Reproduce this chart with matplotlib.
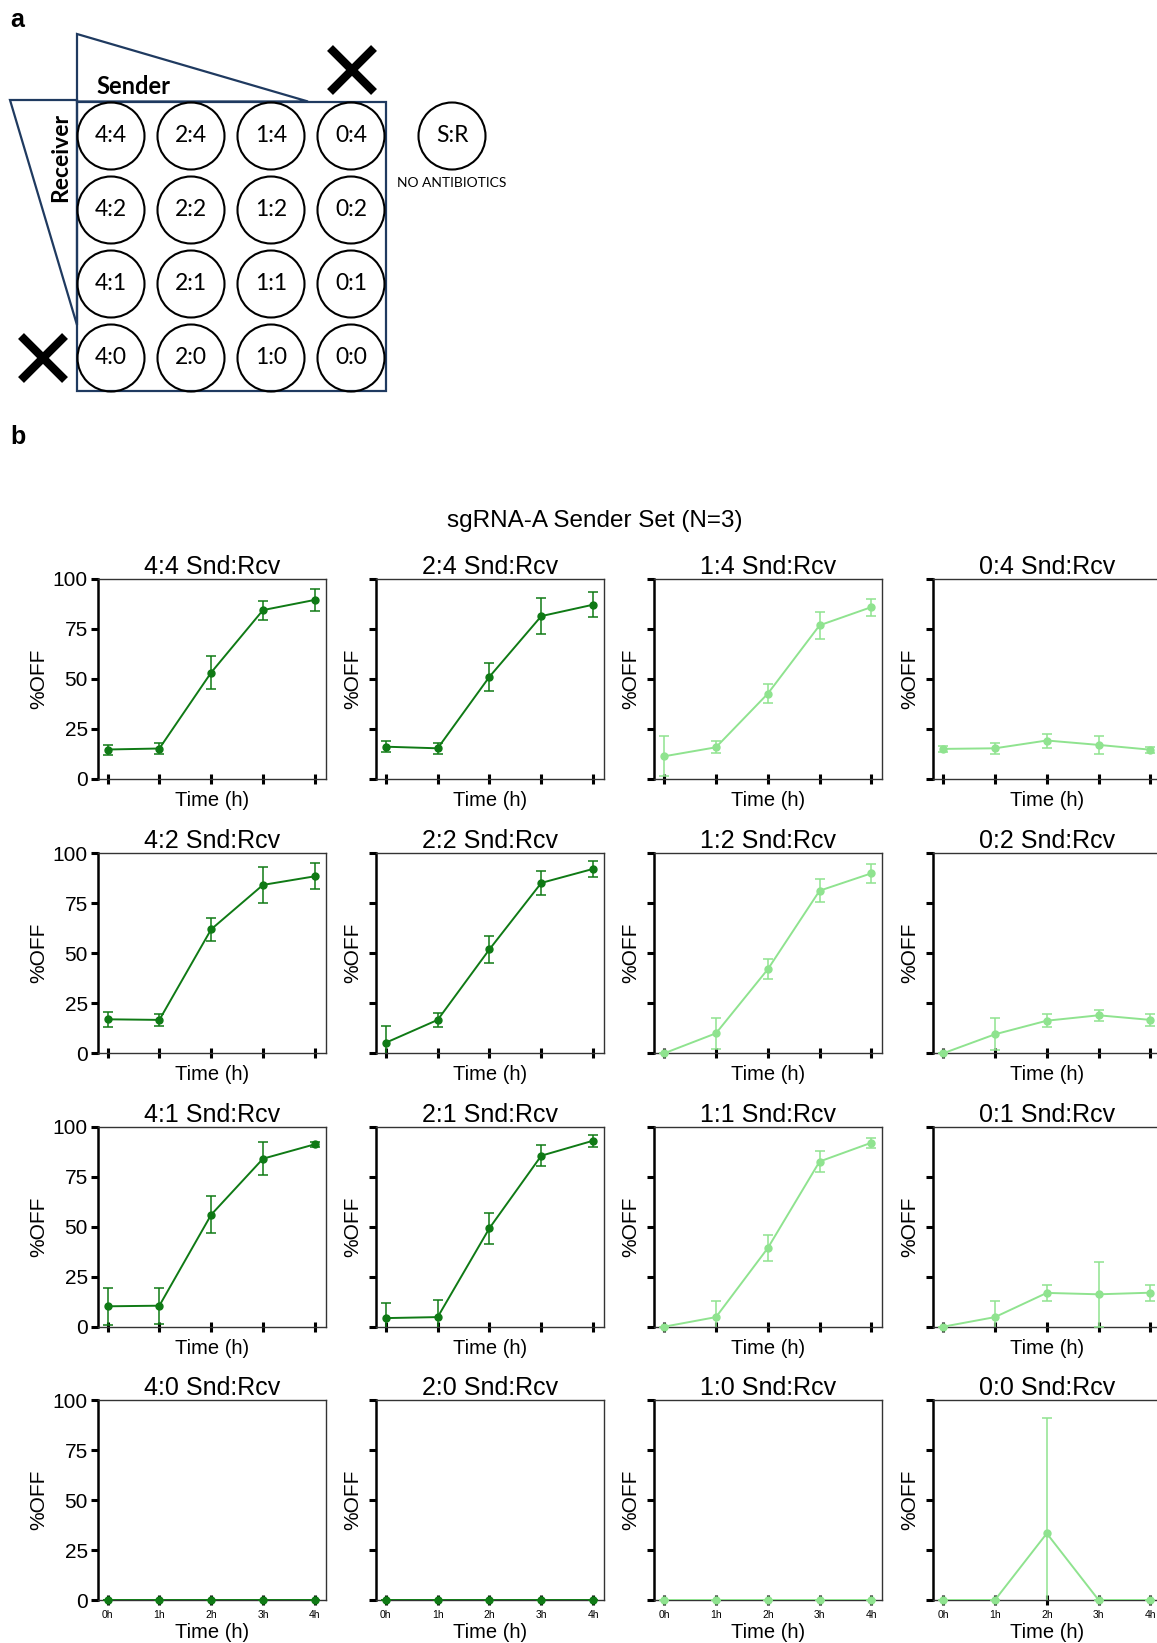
import matplotlib
matplotlib.use("Agg")
import matplotlib.pyplot as plt
from matplotlib.patches import Circle, Polygon, Rectangle
from matplotlib.lines import Line2D

# ---------------------------------------------------------------- data
sender_levels = ["4", "2", "1", "0"]
receiver_levels = ["4", "2", "1", "0"]
time_hours = [0, 1, 2, 3, 4]
time_labels = ["0h", "1h", "2h", "3h", "4h"]
y_ticks = [0, 25, 50, 75, 100]

# mean %OFF and error for each Sender:Receiver well (N=3)
off_4_4 = [14.6, 15.1, 53.1, 84.3, 89.4]
err_4_4 = [2.5, 2.6, 8.4, 4.7, 5.3]
off_2_4 = [16.0, 15.2, 51.0, 81.3, 87.0]
err_2_4 = [2.7, 2.8, 7.0, 9.0, 6.3]
off_1_4 = [11.2, 15.7, 42.5, 76.7, 85.8]
err_1_4 = [10.0, 3.0, 4.7, 6.7, 4.3]
off_0_4 = [14.9, 15.2, 19.1, 16.9, 14.5]
err_0_4 = [1.7, 2.8, 3.5, 4.6, 1.5]

off_4_2 = [17.0, 16.7, 62.0, 84.2, 88.5]
err_4_2 = [3.7, 2.8, 5.7, 9.2, 6.5]
off_2_2 = [5.3, 16.7, 52.0, 85.2, 92.2]
err_2_2 = [8.2, 3.7, 6.8, 6.0, 4.0]
off_1_2 = [0.0, 10.0, 42.0, 81.3, 90.0]
err_1_2 = [0.0, 7.8, 5.0, 5.7, 4.6]
off_0_2 = [0.0, 9.5, 16.3, 19.0, 16.7]
err_0_2 = [0.0, 8.0, 3.3, 2.9, 2.9]

off_4_1 = [10.2, 10.5, 56.0, 84.0, 91.2]
err_4_1 = [9.3, 9.0, 9.2, 8.2, 1.2]
off_2_1 = [4.3, 4.8, 49.3, 85.5, 93.0]
err_2_1 = [7.5, 8.5, 7.7, 5.2, 3.0]
off_1_1 = [0.0, 4.8, 39.3, 82.6, 92.0]
err_1_1 = [0.0, 8.0, 6.5, 5.2, 2.6]
off_0_1 = [0.0, 4.8, 16.9, 16.2, 17.0]
err_0_1 = [0.0, 8.0, 4.0, 16.4, 4.0]

off_4_0 = [0.0, 0.0, 0.0, 0.0, 0.0]
err_4_0 = [0.0, 0.0, 0.0, 0.0, 0.0]
off_2_0 = [0.0, 0.0, 0.0, 0.0, 0.0]
err_2_0 = [0.0, 0.0, 0.0, 0.0, 0.0]
off_1_0 = [0.0, 0.0, 0.0, 0.0, 0.0]
err_1_0 = [0.0, 0.0, 0.0, 0.0, 0.0]
off_0_0 = [0.0, 0.0, 33.3, 0.0, 0.0]
err_0_0 = [0.0, 0.0, 57.5, 0.0, 0.0]

wells = {
    ("4", "4"): (off_4_4, err_4_4), ("2", "4"): (off_2_4, err_2_4),
    ("1", "4"): (off_1_4, err_1_4), ("0", "4"): (off_0_4, err_0_4),
    ("4", "2"): (off_4_2, err_4_2), ("2", "2"): (off_2_2, err_2_2),
    ("1", "2"): (off_1_2, err_1_2), ("0", "2"): (off_0_2, err_0_2),
    ("4", "1"): (off_4_1, err_4_1), ("2", "1"): (off_2_1, err_2_1),
    ("1", "1"): (off_1_1, err_1_1), ("0", "1"): (off_0_1, err_0_1),
    ("4", "0"): (off_4_0, err_4_0), ("2", "0"): (off_2_0, err_2_0),
    ("1", "0"): (off_1_0, err_1_0), ("0", "0"): (off_0_0, err_0_0),
}

# ---------------------------------------------------------------- style
W, H, DPI = 1157, 1643, 100
DARK = "#0f7a15"
LIGHT = "#8fe38f"
NAVY = "#1f3a60"
SANS = ["Liberation Sans", "DejaVu Sans"]
DIAG = ["Lato", "Open Sans", "DejaVu Sans"]

plt.rcParams["font.family"] = SANS

fig = plt.figure(figsize=(W / DPI, H / DPI), dpi=DPI)
fig.patch.set_facecolor("white")

# ------------------------------------------------ panel a: plate layout
canvas = fig.add_axes([0, 0, 1, 1])
canvas.set_xlim(0, W)
canvas.set_ylim(H, 0)
canvas.axis("off")

box_l, box_t, box_r, box_b = 77, 101.5, 385.5, 391
canvas.add_patch(Rectangle((box_l, box_t), box_r - box_l, box_b - box_t,
                           fill=False, ec=NAVY, lw=1.6))
canvas.add_patch(Polygon([(box_l, 34), (box_l, box_t), (308, box_t)],
                         closed=True, fill=False, ec=NAVY, lw=1.6))
canvas.add_patch(Polygon([(10, 100), (box_l, 100), (box_l, 325)],
                         closed=True, fill=False, ec=NAVY, lw=1.6))

well_r = 33.5
x0, dx = 111, 80
y0, dy = 136, 74
for j, r in enumerate(receiver_levels):
    for i, s in enumerate(sender_levels):
        cx, cy = x0 + i * dx, y0 + j * dy
        canvas.add_patch(Circle((cx, cy), well_r, fill=False, ec="black", lw=1.5))
        canvas.text(cx, cy, f"{s}:{r}", ha="center", va="center",
                    fontsize=16.5, family=DIAG)

canvas.add_patch(Circle((452, 136), well_r, fill=False, ec="black", lw=1.5))
canvas.text(452, 136, "S:R", ha="center", va="center", fontsize=16.5, family=DIAG)
canvas.text(452, 183, "NO ANTIBIOTICS", ha="center", va="center",
            fontsize=10, family=DIAG)

canvas.text(96, 86, "Sender", ha="left", va="center", fontsize=17,
            fontweight="bold", family=DIAG)
canvas.text(61, 157, "Receiver", ha="center", va="center", rotation=90,
            fontsize=16.5, fontweight="bold", family=DIAG)

for cx, cy in [(352, 70), (43, 358)]:
    h = 22
    canvas.add_line(Line2D([cx - h, cx + h], [cy - h, cy + h], color="black",
                           lw=6, solid_capstyle="butt"))
    canvas.add_line(Line2D([cx - h, cx + h], [cy + h, cy - h], color="black",
                           lw=6, solid_capstyle="butt"))

canvas.text(10, 20, "a", ha="left", va="center", fontsize=18, fontweight="bold")
canvas.text(10, 437, "b", ha="left", va="center", fontsize=18, fontweight="bold")

# ------------------------------------------------ panel b: time courses
fig.text(595 / W, 1 - 521 / H, "sgRNA-A Sender Set (N=3)", ha="center",
         va="center", fontsize=17.5)

col_left = [97.7, 376, 654.3, 933.3]
row_top = [578.7, 853.3, 1126.7, 1400]
ax_w, ax_h = 228, 200

for j, r in enumerate(receiver_levels):
    for i, s in enumerate(sender_levels):
        ax = fig.add_axes([col_left[i] / W, 1 - (row_top[j] + ax_h) / H,
                           ax_w / W, ax_h / H])
        color = DARK if s in ("4", "2") else LIGHT
        vals, errs = wells[(s, r)]
        ax.errorbar(time_hours, vals, yerr=errs, color=color, lw=1.4,
                    elinewidth=1.1, capsize=3.6, capthick=1.1, zorder=3)
        ax.plot(time_hours, vals, "o", color=color, ms=5, clip_on=False,
                zorder=4)
        ax.set_xlim(-0.19, 4.21)
        ax.set_ylim(0, 100)
        ax.set_xticks(time_hours)
        ax.set_yticks(y_ticks)
        last_row = j == len(receiver_levels) - 1
        if last_row:
            ax.set_xticklabels(time_labels, fontsize=7.5,
                               family=["Liberation Sans Narrow", "Liberation Sans"])
        else:
            ax.set_xticklabels([])
        if i == 0:
            ax.set_yticklabels([str(t) for t in y_ticks], fontsize=15)
        else:
            ax.set_yticklabels([])
        ax.tick_params(axis="y", direction="out", length=5, width=2.2, pad=2)
        ax.tick_params(axis="x", direction="inout", length=7, width=2.2, pad=4)
        for side in ("top", "right", "bottom"):
            ax.spines[side].set_linewidth(1.0)
            ax.spines[side].set_color("#333333")
        ax.spines["left"].set_linewidth(1.8)
        ax.spines["left"].set_color("black")
        ax.set_title(f"{s}:{r} Snd:Rcv", fontsize=18, pad=3)
        ax.set_ylabel("%OFF", fontsize=15, labelpad=3)
        ax.set_xlabel("Time (h)", fontsize=14.5, labelpad=2 if last_row else 1)

fig.savefig("out.png", dpi=DPI, facecolor="white")
